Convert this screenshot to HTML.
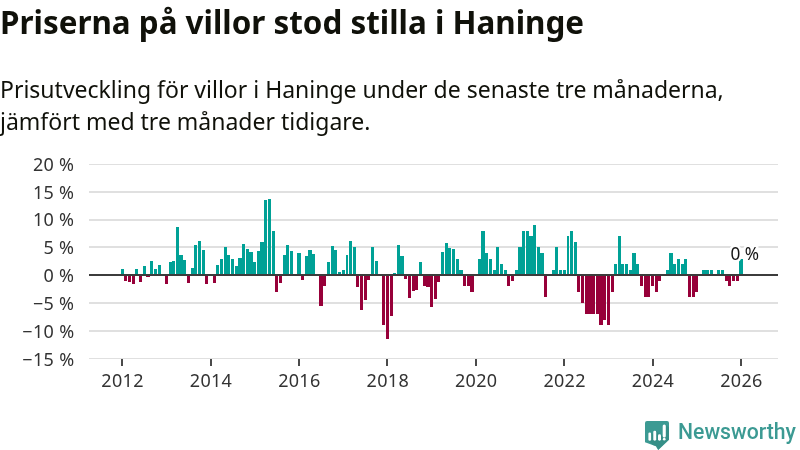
<!DOCTYPE html>
<html lang="sv"><head><meta charset="utf-8"><title>Priserna på villor stod stilla i Haninge</title>
<style>
html,body{margin:0;padding:0;background:#fff}
body{width:800px;height:450px;overflow:hidden;position:relative;font-family:"Noto Sans","Liberation Sans",sans-serif}
h1{will-change:transform;position:absolute;left:0;top:0;margin:0;font-size:31.4px;font-weight:700;line-height:43px;color:#10110a;white-space:nowrap}
p{will-change:transform;position:absolute;left:0;top:74.4px;margin:0;font-size:23px;font-weight:400;line-height:31.7px;color:#10110a;width:790px}
</style></head><body>
<h1>Priserna på villor stod stilla i Haninge</h1>
<p>Prisutveckling för villor i Haninge under de senaste tre månaderna,<br>jämfört med tre månader tidigare.</p>
<svg width="800" height="450" viewBox="0 0 800 450" style="position:absolute;left:0;top:0;will-change:transform">
<g fill="#e0e0e0" shape-rendering="crispEdges"><rect x="89" y="164" width="689" height="1"/><rect x="89" y="191" width="689" height="2"/><rect x="89" y="219" width="689" height="2"/><rect x="89" y="246" width="689" height="2"/><rect x="89" y="302" width="689" height="2"/><rect x="89" y="330" width="689" height="2"/><rect x="89" y="358" width="689" height="1"/></g>
<g shape-rendering="crispEdges"><rect x="121" y="269" width="3" height="6" fill="#00a196"/><rect x="124" y="275" width="3" height="6" fill="#970039"/><rect x="128" y="275" width="3" height="7" fill="#970039"/><rect x="132" y="275" width="3" height="9" fill="#970039"/><rect x="135" y="269" width="3" height="6" fill="#00a196"/><rect x="139" y="275" width="3" height="7" fill="#970039"/><rect x="143" y="266" width="3" height="9" fill="#00a196"/><rect x="146" y="275" width="4" height="2" fill="#970039"/><rect x="150" y="261" width="3" height="14" fill="#00a196"/><rect x="154" y="269" width="3" height="6" fill="#00a196"/><rect x="158" y="265" width="3" height="10" fill="#00a196"/><rect x="165" y="275" width="3" height="9" fill="#970039"/><rect x="169" y="262" width="3" height="13" fill="#00a196"/><rect x="172" y="261" width="3" height="14" fill="#00a196"/><rect x="176" y="227" width="3" height="48" fill="#00a196"/><rect x="179" y="255" width="4" height="20" fill="#00a196"/><rect x="183" y="260" width="3" height="15" fill="#00a196"/><rect x="187" y="275" width="3" height="8" fill="#970039"/><rect x="191" y="268" width="3" height="7" fill="#00a196"/><rect x="194" y="245" width="3" height="30" fill="#00a196"/><rect x="198" y="241" width="3" height="34" fill="#00a196"/><rect x="202" y="250" width="3" height="25" fill="#00a196"/><rect x="205" y="275" width="3" height="9" fill="#970039"/><rect x="213" y="275" width="3" height="8" fill="#970039"/><rect x="216" y="265" width="3" height="10" fill="#00a196"/><rect x="220" y="259" width="3" height="16" fill="#00a196"/><rect x="224" y="247" width="3" height="28" fill="#00a196"/><rect x="227" y="255" width="3" height="20" fill="#00a196"/><rect x="231" y="259" width="3" height="16" fill="#00a196"/><rect x="235" y="266" width="3" height="9" fill="#00a196"/><rect x="238" y="258" width="4" height="17" fill="#00a196"/><rect x="242" y="244" width="3" height="31" fill="#00a196"/><rect x="246" y="249" width="3" height="26" fill="#00a196"/><rect x="249" y="252" width="4" height="23" fill="#00a196"/><rect x="253" y="262" width="3" height="13" fill="#00a196"/><rect x="257" y="251" width="3" height="24" fill="#00a196"/><rect x="260" y="242" width="4" height="33" fill="#00a196"/><rect x="264" y="200" width="3" height="75" fill="#00a196"/><rect x="268" y="199" width="3" height="76" fill="#00a196"/><rect x="272" y="231" width="3" height="44" fill="#00a196"/><rect x="275" y="275" width="3" height="17" fill="#970039"/><rect x="279" y="275" width="3" height="8" fill="#970039"/><rect x="283" y="255" width="3" height="20" fill="#00a196"/><rect x="286" y="245" width="3" height="30" fill="#00a196"/><rect x="290" y="251" width="3" height="24" fill="#00a196"/><rect x="297" y="253" width="4" height="22" fill="#00a196"/><rect x="301" y="275" width="3" height="5" fill="#970039"/><rect x="305" y="256" width="3" height="19" fill="#00a196"/><rect x="308" y="250" width="4" height="25" fill="#00a196"/><rect x="312" y="254" width="3" height="21" fill="#00a196"/><rect x="319" y="275" width="4" height="31" fill="#970039"/><rect x="323" y="275" width="3" height="11" fill="#970039"/><rect x="327" y="262" width="3" height="13" fill="#00a196"/><rect x="331" y="246" width="3" height="29" fill="#00a196"/><rect x="334" y="250" width="3" height="25" fill="#00a196"/><rect x="338" y="272" width="3" height="3" fill="#00a196"/><rect x="342" y="270" width="3" height="5" fill="#00a196"/><rect x="346" y="255" width="2" height="20" fill="#00a196"/><rect x="349" y="241" width="3" height="34" fill="#00a196"/><rect x="353" y="247" width="3" height="28" fill="#00a196"/><rect x="356" y="275" width="3" height="12" fill="#970039"/><rect x="360" y="275" width="3" height="35" fill="#970039"/><rect x="364" y="275" width="3" height="25" fill="#970039"/><rect x="367" y="275" width="3" height="5" fill="#970039"/><rect x="371" y="247" width="3" height="28" fill="#00a196"/><rect x="375" y="261" width="3" height="14" fill="#00a196"/><rect x="382" y="275" width="3" height="50" fill="#970039"/><rect x="386" y="275" width="3" height="64" fill="#970039"/><rect x="390" y="275" width="3" height="41" fill="#970039"/><rect x="393" y="273" width="3" height="2" fill="#00a196"/><rect x="397" y="245" width="3" height="30" fill="#00a196"/><rect x="400" y="256" width="4" height="19" fill="#00a196"/><rect x="404" y="275" width="3" height="4" fill="#970039"/><rect x="408" y="275" width="3" height="23" fill="#970039"/><rect x="412" y="275" width="3" height="16" fill="#970039"/><rect x="415" y="275" width="3" height="15" fill="#970039"/><rect x="419" y="262" width="3" height="13" fill="#00a196"/><rect x="423" y="275" width="3" height="11" fill="#970039"/><rect x="426" y="275" width="4" height="12" fill="#970039"/><rect x="430" y="275" width="3" height="32" fill="#970039"/><rect x="434" y="275" width="3" height="24" fill="#970039"/><rect x="437" y="275" width="3" height="7" fill="#970039"/><rect x="441" y="252" width="3" height="23" fill="#00a196"/><rect x="445" y="243" width="3" height="32" fill="#00a196"/><rect x="448" y="248" width="3" height="27" fill="#00a196"/><rect x="452" y="249" width="3" height="26" fill="#00a196"/><rect x="456" y="259" width="3" height="16" fill="#00a196"/><rect x="459" y="270" width="4" height="5" fill="#00a196"/><rect x="463" y="275" width="3" height="11" fill="#970039"/><rect x="467" y="275" width="3" height="11" fill="#970039"/><rect x="470" y="275" width="4" height="17" fill="#970039"/><rect x="478" y="259" width="3" height="16" fill="#00a196"/><rect x="481" y="231" width="4" height="44" fill="#00a196"/><rect x="485" y="253" width="3" height="22" fill="#00a196"/><rect x="489" y="259" width="3" height="16" fill="#00a196"/><rect x="493" y="270" width="3" height="5" fill="#00a196"/><rect x="496" y="247" width="3" height="28" fill="#00a196"/><rect x="500" y="264" width="3" height="11" fill="#00a196"/><rect x="504" y="270" width="3" height="5" fill="#00a196"/><rect x="507" y="275" width="3" height="11" fill="#970039"/><rect x="511" y="275" width="3" height="6" fill="#970039"/><rect x="515" y="270" width="3" height="5" fill="#00a196"/><rect x="518" y="247" width="4" height="28" fill="#00a196"/><rect x="522" y="231" width="3" height="44" fill="#00a196"/><rect x="526" y="231" width="3" height="44" fill="#00a196"/><rect x="529" y="236" width="4" height="39" fill="#00a196"/><rect x="533" y="225" width="3" height="50" fill="#00a196"/><rect x="537" y="247" width="3" height="28" fill="#00a196"/><rect x="540" y="253" width="4" height="22" fill="#00a196"/><rect x="544" y="275" width="3" height="22" fill="#970039"/><rect x="552" y="270" width="3" height="5" fill="#00a196"/><rect x="555" y="247" width="3" height="28" fill="#00a196"/><rect x="559" y="270" width="3" height="5" fill="#00a196"/><rect x="563" y="270" width="3" height="5" fill="#00a196"/><rect x="567" y="236" width="2" height="39" fill="#00a196"/><rect x="570" y="231" width="3" height="44" fill="#00a196"/><rect x="574" y="242" width="3" height="33" fill="#00a196"/><rect x="577" y="275" width="3" height="17" fill="#970039"/><rect x="581" y="275" width="3" height="28" fill="#970039"/><rect x="585" y="275" width="3" height="39" fill="#970039"/><rect x="588" y="275" width="4" height="39" fill="#970039"/><rect x="592" y="275" width="3" height="39" fill="#970039"/><rect x="596" y="275" width="3" height="39" fill="#970039"/><rect x="599" y="275" width="4" height="50" fill="#970039"/><rect x="603" y="275" width="3" height="45" fill="#970039"/><rect x="607" y="275" width="3" height="50" fill="#970039"/><rect x="611" y="275" width="3" height="17" fill="#970039"/><rect x="614" y="264" width="3" height="11" fill="#00a196"/><rect x="618" y="236" width="3" height="39" fill="#00a196"/><rect x="621" y="264" width="3" height="11" fill="#00a196"/><rect x="625" y="264" width="3" height="11" fill="#00a196"/><rect x="629" y="270" width="3" height="5" fill="#00a196"/><rect x="632" y="253" width="4" height="22" fill="#00a196"/><rect x="636" y="264" width="3" height="11" fill="#00a196"/><rect x="640" y="275" width="3" height="11" fill="#970039"/><rect x="644" y="275" width="3" height="22" fill="#970039"/><rect x="647" y="275" width="3" height="22" fill="#970039"/><rect x="651" y="275" width="3" height="11" fill="#970039"/><rect x="655" y="275" width="3" height="17" fill="#970039"/><rect x="658" y="275" width="3" height="6" fill="#970039"/><rect x="666" y="270" width="3" height="5" fill="#00a196"/><rect x="669" y="253" width="4" height="22" fill="#00a196"/><rect x="673" y="264" width="3" height="11" fill="#00a196"/><rect x="677" y="259" width="3" height="16" fill="#00a196"/><rect x="681" y="264" width="3" height="11" fill="#00a196"/><rect x="684" y="259" width="3" height="16" fill="#00a196"/><rect x="688" y="275" width="3" height="22" fill="#970039"/><rect x="692" y="275" width="3" height="22" fill="#970039"/><rect x="695" y="275" width="3" height="17" fill="#970039"/><rect x="702" y="270" width="4" height="5" fill="#00a196"/><rect x="706" y="270" width="3" height="5" fill="#00a196"/><rect x="710" y="270" width="3" height="5" fill="#00a196"/><rect x="717" y="270" width="3" height="5" fill="#00a196"/><rect x="721" y="270" width="3" height="5" fill="#00a196"/><rect x="725" y="275" width="3" height="6" fill="#970039"/><rect x="728" y="275" width="3" height="11" fill="#970039"/><rect x="732" y="275" width="3" height="6" fill="#970039"/><rect x="736" y="275" width="3" height="6" fill="#970039"/><rect x="739" y="259" width="4" height="16" fill="#00a196"/></g>
<rect x="89" y="274" width="689" height="2" fill="#3c3c3c"/>
<g fill="#4a4a4a" shape-rendering="crispEdges"><rect x="121" y="359" width="2" height="7"/><rect x="210" y="359" width="2" height="7"/><rect x="298" y="359" width="2" height="7"/><rect x="386" y="359" width="2" height="7"/><rect x="475" y="359" width="2" height="7"/><rect x="563" y="359" width="2" height="7"/><rect x="652" y="359" width="2" height="7"/><rect x="740" y="359" width="2" height="7"/></g>
<g font-family="'Noto Sans', 'Liberation Sans', sans-serif" font-size="18" fill="#333" text-anchor="end" letter-spacing="0.3"><text x="74.4" y="171">20 %</text><text x="74.4" y="199">15 %</text><text x="74.4" y="226">10 %</text><text x="74.4" y="254">5 %</text><text x="74.4" y="282">0 %</text><text x="74.4" y="310">−5 %</text><text x="74.4" y="338">−10 %</text><text x="74.4" y="366">−15 %</text></g>
<g font-family="'Noto Sans', 'Liberation Sans', sans-serif" font-size="18" fill="#333" text-anchor="middle" letter-spacing="0.3"><text x="122.55" y="387.2">2012</text><text x="211.01" y="387.2">2014</text><text x="299.35" y="387.2">2016</text><text x="387.81" y="387.2">2018</text><text x="476.15" y="387.2">2020</text><text x="564.61" y="387.2">2022</text><text x="652.95" y="387.2">2024</text><text x="741.41" y="387.2">2026</text></g>
<text x="744.7" y="259.5" font-family="'Noto Sans', 'Liberation Sans', sans-serif" font-size="17.2" fill="#151515" text-anchor="middle" stroke="#fff" stroke-width="5" paint-order="stroke" stroke-linejoin="round">0 %</text>
<defs><clipPath id="bub"><path d="M0,2 Q0,0 2,0 H22 Q24,0 24,2 V18.7 L13.2,29 L11,25.2 L0,21.2 Z"/></clipPath></defs>
<g transform="translate(645,421)">
<path d="M0,2 Q0,0 2,0 H22 Q24,0 24,2 V18.7 L13.2,29 L11,25.2 L0,21.2 Z" fill="#3c9a93"/>
<g clip-path="url(#bub)" fill="#32877f" opacity="0.55">
<path d="M6.1,11.4 L26.1,31.4 L23.4,39.7 L3.4,19.7 Z"/>
<path d="M11.2,9.7 L31.2,29.7 L28.3,39.7 L8.3,19.7 Z"/>
<path d="M16,13.3 L36,33.3 L33,39.7 L13,19.7 Z"/>
<path d="M20.8,3.4 L40.8,23.4 L37.7,36.6 L17.7,16.6 Z"/>
<path d="M20.5,17.5 L40.5,37.5 L38,40.5 L18,20.5 Z"/>
</g>
<g fill="#fff">
<rect x="3.4" y="11.4" width="2.7" height="8.3" rx="1.3"/>
<rect x="8.3" y="9.7" width="2.9" height="10" rx="1.4"/>
<rect x="13" y="13.3" width="3" height="6.4" rx="1.4"/>
<rect x="17.7" y="3.4" width="3.1" height="13.2" rx="1.5"/>
<circle cx="19.25" cy="18.2" r="1.35"/>
</g>
</g>
<text transform="translate(678,439.3) scale(1,1.055)" font-family="Roboto, 'Liberation Sans', sans-serif" font-weight="500" font-size="21.2" fill="#3c9a93">Newsworthy</text>
</svg>
</body></html>
